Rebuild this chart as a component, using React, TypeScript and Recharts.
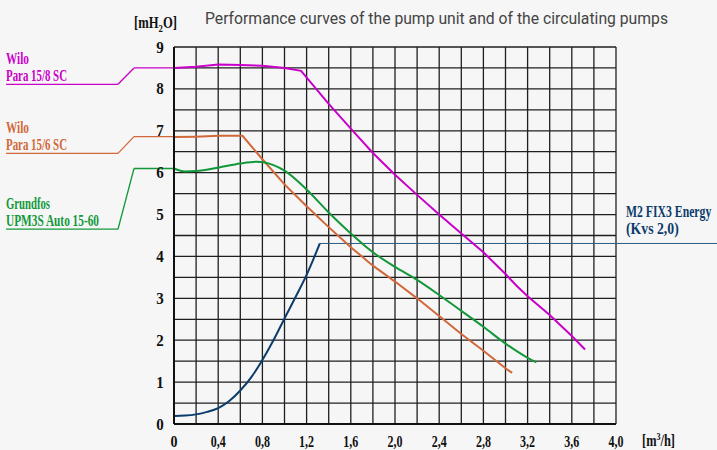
import { LineChart, Line, XAxis, YAxis, CartesianGrid, ReferenceLine } from 'recharts'

// flow [m3/h] / head [mH2O]
const wilo158Flow = [0, 0.2, 0.4, 0.6, 0.8, 1.0, 1.15, 1.4, 1.6, 1.8, 2.0, 2.2, 2.4, 2.6, 2.8, 3.0, 3.1, 3.2, 3.4, 3.6, 3.72]
const wilo158Head = [8.5, 8.53, 8.58, 8.57, 8.55, 8.5, 8.43, 7.64, 7.05, 6.47, 5.95, 5.47, 5.0, 4.55, 4.1, 3.58, 3.3, 3.05, 2.6, 2.1, 1.78]

const wilo156Flow = [0, 0.2, 0.4, 0.62, 0.8, 1.0, 1.2, 1.4, 1.6, 1.8, 2.0, 2.2, 2.4, 2.6, 2.8, 3.0, 3.06]
const wilo156Head = [6.85, 6.86, 6.88, 6.88, 6.32, 5.72, 5.2, 4.7, 4.22, 3.78, 3.4, 3.0, 2.58, 2.15, 1.75, 1.33, 1.22]

const grundfosFlow = [0, 0.1, 0.2, 0.4, 0.6, 0.75, 0.9, 1.0, 1.2, 1.4, 1.6, 1.8, 2.0, 2.2, 2.4, 2.6, 2.8, 3.0, 3.2, 3.28]
const grundfosHead = [6.1, 6.03, 6.04, 6.12, 6.22, 6.26, 6.18, 6.05, 5.6, 5.05, 4.55, 4.1, 3.75, 3.44, 3.08, 2.7, 2.32, 1.92, 1.58, 1.47]

const m2Flow = [0, 0.1, 0.2, 0.3, 0.4, 0.5, 0.6, 0.7, 0.8, 0.9, 1.0, 1.1, 1.2, 1.32]
const m2Head = [0.19, 0.2, 0.23, 0.29, 0.38, 0.55, 0.8, 1.12, 1.53, 2.0, 2.52, 3.03, 3.56, 4.31]

const xTicks = [0, 0.2, 0.4, 0.6, 0.8, 1.0, 1.2, 1.4, 1.6, 1.8, 2.0, 2.2, 2.4, 2.6, 2.8, 3.0, 3.2, 3.4, 3.6, 3.8, 4.0]
const yTicks = [0, 0.5, 1, 1.5, 2, 2.5, 3, 3.5, 4, 4.5, 5, 5.5, 6, 6.5, 7, 7.5, 8, 8.5, 9]

// leader lines from the labels to the curves (data units)
const wilo158Leader = [[-1.52, 8.11], [-0.507, 8.11], [-0.362, 8.5], [0, 8.5]]
const wilo156Leader = [[-1.52, 6.46], [-0.507, 6.46], [-0.362, 6.86], [0, 6.86]]
const grundfosLeader = [[-1.52, 4.65], [-0.507, 4.65], [-0.362, 6.1], [0, 6.1]]
const m2Leader = [[1.32, 4.31], [4.95, 4.31]]

const MAGENTA = '#c900c9'
const ORANGE = '#d0683a'
const GREEN = '#12983a'
const BLUE = '#0c3c6c'
const SERIF = '"Liberation Serif", "Times New Roman", serif'

const toPoints = (q: number[], h: number[]) => q.map((v, i) => ({ q: v, h: h[i] }))

const fmtFlow = (v: number) => (v === 0 ? '0' : v.toFixed(1).replace('.', ','))

const XTick = ({ x, y, payload }: any) => {
  const v = payload.value
  if (Math.round(v * 10) % 4 !== 0) return <g />
  const label = fmtFlow(v)
  return (
    <text x={x} y={y + 23} textAnchor="middle" fontFamily={SERIF} fontWeight="bold" fontSize={17} fill="#111"
      textLength={label.length === 1 ? 7 : 15} lengthAdjust="spacingAndGlyphs">
      {label}
    </text>
  )
}

const YTick = ({ x, y, payload }: any) => {
  const v = payload.value
  if (!Number.isInteger(v)) return <g />
  return (
    <text x={x - 14} y={y + 5.5} textAnchor="middle" fontFamily={SERIF} fontWeight="bold" fontSize={17} fill="#111"
      textLength={7.5} lengthAdjust="spacingAndGlyphs">
      {v}
    </text>
  )
}

const leaderSegments = (pts: number[][], color: string, key: string, width = 1.3) =>
  pts.slice(1).map((p, i) => (
    <ReferenceLine
      key={`${key}-${i}`}
      segment={[{ x: pts[i][0], y: pts[i][1] }, { x: p[0], y: p[1] }]}
      stroke={color}
      strokeWidth={width}
      ifOverflow="visible"
    />
  ))

export default function App() {
  return (
    <div style={{ position: 'absolute', left: 0, top: 0, width: 717, height: 450, background: '#f6f6f6' }}>
      <LineChart width={717} height={450} margin={{ top: 47, right: 101, bottom: 0, left: 144 }}>
        <CartesianGrid stroke="#1f1f1f" strokeWidth={1.3} />
        <XAxis dataKey="q" type="number" domain={[0, 4]} ticks={xTicks} height={26}
          tickLine={false} tickSize={0} tickMargin={0} interval={0}
          axisLine={{ stroke: '#111', strokeWidth: 2 }} tick={<XTick />} />
        <YAxis type="number" domain={[0, 9]} ticks={yTicks} width={30}
          tickLine={false} tickSize={0} tickMargin={0} interval={0}
          axisLine={{ stroke: '#111', strokeWidth: 2 }} tick={<YTick />} />
        {leaderSegments(wilo158Leader, MAGENTA, 'w8')}
        {leaderSegments(wilo156Leader, ORANGE, 'w6')}
        {leaderSegments(grundfosLeader, GREEN, 'gr')}
        {leaderSegments(m2Leader, '#2c5a88', 'm2', 1)}
        <Line data={toPoints(m2Flow, m2Head)} dataKey="h" type="monotone" stroke={BLUE} strokeWidth={2} dot={false} isAnimationActive={false} />
        <Line data={toPoints(wilo156Flow, wilo156Head)} dataKey="h" type="linear" stroke={ORANGE} strokeWidth={2} dot={false} isAnimationActive={false} />
        <Line data={toPoints(grundfosFlow, grundfosHead)} dataKey="h" type="monotone" stroke={GREEN} strokeWidth={2} dot={false} isAnimationActive={false} />
        <Line data={toPoints(wilo158Flow, wilo158Head)} dataKey="h" type="linear" stroke={MAGENTA} strokeWidth={2} dot={false} isAnimationActive={false} />
      </LineChart>
      <svg width={717} height={450} style={{ position: 'absolute', left: 0, top: 0, pointerEvents: 'none' }}>
        <text x={205} y={24} fontFamily="Roboto, sans-serif" fontSize={16} fill="#444" textLength={463} lengthAdjust="spacingAndGlyphs">
          Performance curves of the pump unit and of the circulating pumps
        </text>
        <text transform="translate(134,28) scale(0.79,1)" fontFamily={SERIF} fontWeight="bold" fontSize={16} fill="#111">
          [mH<tspan fontSize={11} dy={4}>2</tspan><tspan dy={-4}>O]</tspan>
        </text>
        <text transform="translate(642,446) scale(0.73,1)" fontFamily={SERIF} fontWeight="bold" fontSize={17} fill="#111">
          [m<tspan fontSize={11} dy={-6}>3</tspan><tspan dy={6}>/h]</tspan>
        </text>
        <g fontFamily={SERIF} fontWeight="bold" fontSize={17}>
          <text x={6} y={64} fill={MAGENTA} textLength={23} lengthAdjust="spacingAndGlyphs">Wilo</text>
          <text x={6} y={81} fill={MAGENTA} textLength={61} lengthAdjust="spacingAndGlyphs">Para 15/8 SC</text>
          <text x={6} y={133} fill={ORANGE} textLength={23} lengthAdjust="spacingAndGlyphs">Wilo</text>
          <text x={6} y={150} fill={ORANGE} textLength={61} lengthAdjust="spacingAndGlyphs">Para 15/6 SC</text>
          <text x={6} y={209} fill={GREEN} textLength={44} lengthAdjust="spacingAndGlyphs">Grundfos</text>
          <text x={6} y={226} fill={GREEN} textLength={93} lengthAdjust="spacingAndGlyphs">UPM3S Auto 15-60</text>
          <text transform="translate(626,217) scale(0.69,1)" fill={BLUE}>M2 FIX3 Energy</text>
          <text transform="translate(626,234) scale(0.81,1)" fill={BLUE}>(Kvs 2,0)</text>
        </g>
      </svg>
    </div>
  )
}
